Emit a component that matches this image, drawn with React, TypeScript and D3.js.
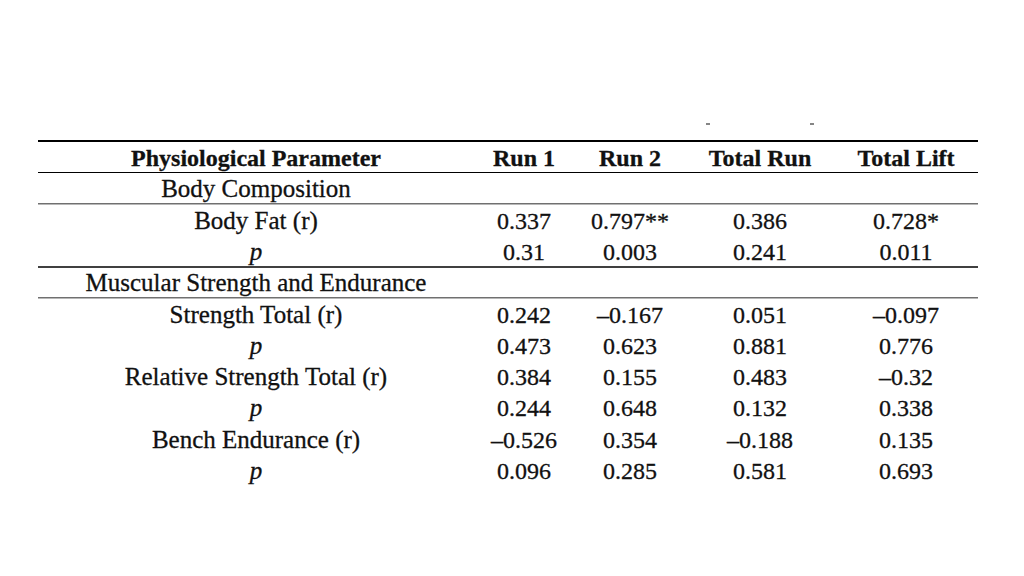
import React from "react";
import * as d3 from "d3";

// table content
const columns = ["Run 1", "Run 2", "Total Run", "Total Lift"];
const sections = ["Body Composition", "Muscular Strength and Endurance"];
const parameters = ["Body Fat (r)", "Strength Total (r)", "Relative Strength Total (r)", "Bench Endurance (r)"];
const sectionOf = [0, 1, 1, 1];

const rRun1 = [0.337, 0.242, 0.384, -0.526];
const rRun2 = [0.797, -0.167, 0.155, 0.354];
const rTotalRun = [0.386, 0.051, 0.483, -0.188];
const rTotalLift = [0.728, -0.097, -0.32, 0.135];

const pRun1 = [0.31, 0.473, 0.244, 0.096];
const pRun2 = [0.003, 0.623, 0.648, 0.285];
const pTotalRun = [0.241, 0.881, 0.132, 0.581];
const pTotalLift = [0.011, 0.776, 0.338, 0.693];

const rByCol = [rRun1, rRun2, rTotalRun, rTotalLift];
const pByCol = [pRun1, pRun2, pTotalRun, pTotalLift];

const fmt = (v: number) => String(v).replace("-", "\u2013");
const stars = (p: number) => (p < 0.01 ? "**" : p < 0.05 ? "*" : "");

type Row = { kind: "header" | "section" | "r" | "p"; label: string; param?: number };

export default function App() {
  //constants
  const width = 1024;
  const height = 576;
  const left = 38;
  const right = 978;
  const font = "'Liberation Serif', 'Times New Roman', serif";
  const fs = 24;

  // build row list
  const rows: Row[] = [{ kind: "header", label: "Physiological Parameter" }];
  parameters.forEach((name, i) => {
    if (i === 0 || sectionOf[i] !== sectionOf[i - 1]) {
      rows.push({ kind: "section", label: sections[sectionOf[i]] });
    }
    rows.push({ kind: "r", label: name, param: i });
    rows.push({ kind: "p", label: "p", param: i });
  });

  //scales
  const yScale = d3
    .scaleLinear()
    .domain([0, rows.length - 1])
    .range([166, 479]);
  const xScale = d3
    .scaleOrdinal<string, number>()
    .domain(["label", ...columns])
    .range([256, 524, 630, 760, 906]);

  // rules
  const rules: { y: number; color: string; w: number }[] = [
    { y: yScale(0) - 25, color: "#000", w: 2 },
  ];
  rows.forEach((row, i) => {
    const next = rows[i + 1];
    if (row.kind === "header") rules.push({ y: yScale(i) + 6.5, color: "#000", w: 1.2 });
    if (row.kind === "section") rules.push({ y: yScale(i) + 6.5, color: "#707070", w: 1.5 });
    if (row.kind === "p" && next && next.kind === "section")
      rules.push({ y: yScale(i) + 7, color: "#000", w: 1.5 });
  });

  const cells = rows.map((row, i) => {
    const y = yScale(i);
    const isHead = row.kind === "header";
    const label = (
      <text
        key={"l" + i}
        x={xScale("label")}
        y={y}
        textAnchor="middle"
        fontSize={isHead ? fs : 25}
        fontWeight={isHead ? "bold" : "normal"}
        fontStyle={row.kind === "p" ? "italic" : "normal"}
      >
        {row.label}
      </text>
    );
    let vals: React.ReactNode[] = [];
    if (isHead) {
      vals = columns.map((c) => (
        <text key={c} x={xScale(c)} y={y} textAnchor="middle" fontWeight="bold">
          {c}
        </text>
      ));
    } else if (row.kind === "r" || row.kind === "p") {
      vals = columns.map((c, ci) => {
        const k = row.param as number;
        const txt =
          row.kind === "r"
            ? fmt(rByCol[ci][k]) + stars(pByCol[ci][k])
            : fmt(pByCol[ci][k]);
        return (
          <text key={c} x={xScale(c)} y={y} textAnchor="middle">
            {txt}
          </text>
        );
      });
    }
    return (
      <g key={i}>
        {label}
        {vals}
      </g>
    );
  });

  const dashX = [xScale("Total Run") - 52, xScale("Total Run") + 52];

  return (
    <svg
      width={width}
      height={height}
      style={{ position: "absolute", left: 0, top: 0, background: "#fff" }}
    >
      <g fontFamily={font} fontSize={fs} fill="#111" stroke="#111" strokeWidth={0.3}>
        {cells}
      </g>
      {rules.map((r, i) => (
        <line key={i} x1={left} x2={right} y1={r.y} y2={r.y} stroke={r.color} strokeWidth={r.w} />
      ))}
      {dashX.map((x, i) => (
        <line key={"d" + i} x1={x - 2} x2={x + 2} y1={124} y2={124} stroke="#333" strokeWidth={1.2} />
      ))}
    </svg>
  );
}
